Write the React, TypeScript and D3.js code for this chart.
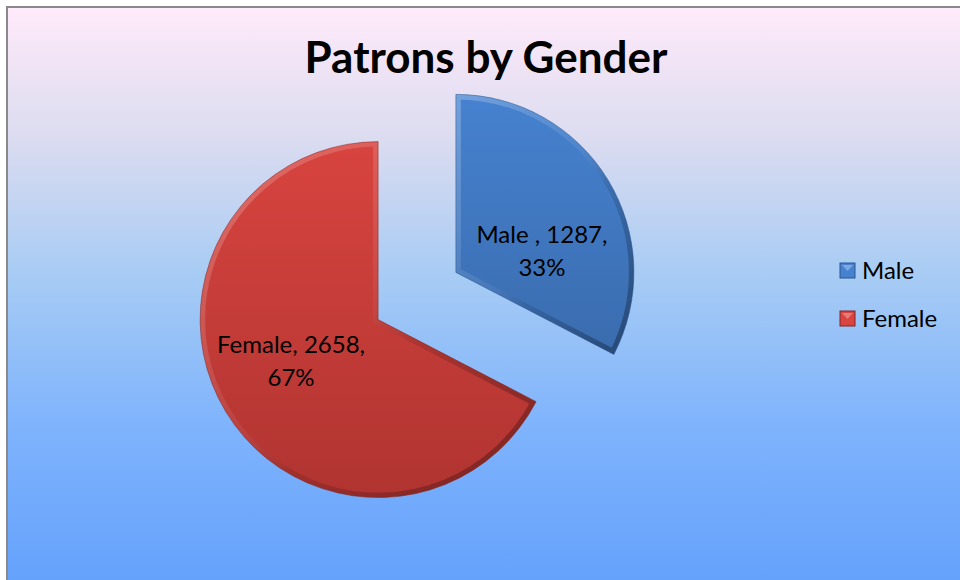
import React, { useEffect, useRef } from 'react';
import * as d3 from 'd3';

const categories = ['Male ', 'Female'];
const legendLabels = ['Male', 'Female'];
const values = [1287, 2658];
const percents = ['33%', '67%'];

const App = () => {
  const svgRef = useRef<SVGSVGElement>(null);

  useEffect(() => {
    const width = 960;
    const height = 580;
    const svg = d3.select(svgRef.current);
    svg.selectAll('*').remove();
    svg.attr('width', width).attr('height', height);

    const defs = svg.append('defs');

    // background gradient
    const bg = defs
      .append('linearGradient')
      .attr('id', 'bg')
      .attr('x1', 0)
      .attr('y1', 0)
      .attr('x2', 0)
      .attr('y2', 1);
    bg.append('stop').attr('offset', '0%').attr('stop-color', '#ffeafa');
    bg.append('stop').attr('offset', '22%').attr('stop-color', '#dcdcf0');
    bg.append('stop').attr('offset', '45%').attr('stop-color', '#a8ccf4');
    bg.append('stop').attr('offset', '70%').attr('stop-color', '#80b4fc');
    bg.append('stop').attr('offset', '100%').attr('stop-color', '#62a0fc');

    svg
      .append('rect')
      .attr('x', 7)
      .attr('y', 7)
      .attr('width', width + 10)
      .attr('height', height + 10)
      .attr('fill', 'url(#bg)')
      .attr('stroke', '#898989')
      .attr('stroke-width', 2);

    const font = 'Lato, "Open Sans", sans-serif';

    svg
      .append('text')
      .attr('x', 486)
      .attr('y', 73)
      .attr('text-anchor', 'middle')
      .style('font-family', font)
      .style('font-size', '44px')
      .style('font-weight', 'bold')
      .text('Patrons by Gender');

    const colors = [
      { main: '#4682d0', bottom: '#3a6cae', dark: '#2a558f' },
      { main: '#d8443f', bottom: '#b03431', dark: '#862520' }
    ];

    colors.forEach((c, i) => {
      const g = defs
        .append('linearGradient')
        .attr('id', `fill${i}`)
        .attr('x1', 0)
        .attr('y1', 0)
        .attr('x2', 0)
        .attr('y2', 1);
      g.append('stop').attr('offset', '0%').attr('stop-color', c.main);
      g.append('stop').attr('offset', '100%').attr('stop-color', c.bottom);
    });

    // bevel gradient: light top-left, dark bottom-right
    const bevel = defs
      .append('linearGradient')
      .attr('id', 'bevel')
      .attr('x1', 0)
      .attr('y1', 0)
      .attr('x2', 1)
      .attr('y2', 1);
    bevel.append('stop').attr('offset', '0%').attr('stop-color', '#fff').attr('stop-opacity', 0.25);
    bevel.append('stop').attr('offset', '45%').attr('stop-color', '#fff').attr('stop-opacity', 0.06);
    bevel.append('stop').attr('offset', '60%').attr('stop-color', '#000').attr('stop-opacity', 0.1);
    bevel.append('stop').attr('offset', '100%').attr('stop-color', '#000').attr('stop-opacity', 0.35);

    const data = categories.map((cat, i) => ({ cat, value: values[i], pct: percents[i] }));
    const pie = d3.pie<any>().sort(null).value(d => d.value);
    const arcs = pie(data);

    const r = 178;
    const cx = 417;
    const cy = 296;
    const explode = 45.5;

    const arc = d3.arc<any>().innerRadius(0).outerRadius(r);

    const slices = svg
      .selectAll('.slice')
      .data(arcs)
      .enter()
      .append('g')
      .attr('transform', d => {
        const mid = (d.startAngle + d.endAngle) / 2;
        const x = cx + Math.sin(mid) * explode;
        const y = cy - Math.cos(mid) * explode;
        return `translate(${x},${y})`;
      });

    slices.each(function (d, i) {
      const g = d3.select(this);
      defs
        .append('clipPath')
        .attr('id', `clip${i}`)
        .append('path')
        .attr('d', arc(d));

      g.append('path').attr('d', arc(d)).attr('fill', `url(#fill${i})`);

      // inner bevel band
      g.append('path')
        .attr('d', arc(d))
        .attr('fill', 'none')
        .attr('stroke', 'url(#bevel)')
        .attr('stroke-width', 10)
        .attr('stroke-linejoin', 'miter')
        .attr('clip-path', `url(#clip${i})`);

      g.append('path')
        .attr('d', arc(d))
        .attr('fill', 'none')
        .attr('stroke', colors[i].dark)
        .attr('stroke-opacity', 0.5)
        .attr('stroke-width', 1);
    });

    // labels
    slices.each(function (d) {
      const [lx, ly] = arc.centroid(d);
      const t = d3
        .select(this)
        .append('text')
        .attr('text-anchor', 'middle')
        .style('font-family', font)
        .style('font-size', '24px')
        .attr('fill', '#000');
      const dx = d.index === 0 ? 10 : -11;
      const dy = d.index === 0 ? 17 : -13;
      t.append('tspan')
        .attr('x', lx + dx)
        .attr('y', ly + dy)
        .text(`${d.data.cat}, ${d.data.value},`);
      t.append('tspan')
        .attr('x', lx + dx)
        .attr('y', ly + dy + 33)
        .text(d.data.pct);
    });

    // legend
    const legend = svg
      .selectAll('.legend')
      .data(legendLabels)
      .enter()
      .append('g')
      .attr('transform', (_, i) => `translate(840, ${263 + i * 48})`);

    legend
      .append('rect')
      .attr('width', 15)
      .attr('height', 15)
      .attr('fill', (_, i) => colors[i].main)
      .attr('stroke', (_, i) => colors[i].dark)
      .attr('stroke-width', 1);

    legend
      .append('path')
      .attr('d', 'M2,2 L13,2 L7.5,8 Z')
      .attr('fill', '#fff')
      .attr('fill-opacity', 0.3);

    legend
      .append('text')
      .attr('x', 22)
      .attr('y', 16)
      .style('font-family', font)
      .style('font-size', '24px')
      .text(d => d);
  }, []);

  return <svg ref={svgRef} style={{ position: 'absolute', left: 0, top: 0 }}></svg>;
};

export default App;
